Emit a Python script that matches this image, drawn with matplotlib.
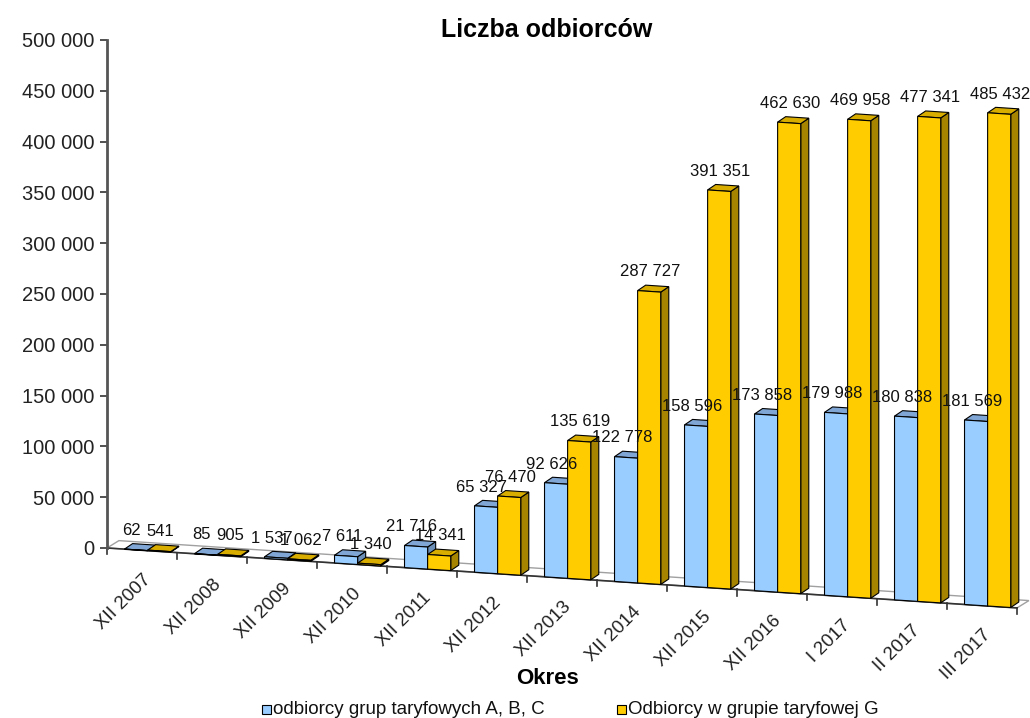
import numpy as np
import matplotlib
matplotlib.use("Agg")
import matplotlib.pyplot as plt
from matplotlib.patches import Polygon, Rectangle
from matplotlib.transforms import Affine2D

plt.rcParams["font.family"] = ["Liberation Sans", "DejaVu Sans"]

periods = ["XII 2007", "XII 2008", "XII 2009", "XII 2010", "XII 2011", "XII 2012",
           "XII 2013", "XII 2014", "XII 2015", "XII 2016", "I 2017", "II 2017", "III 2017"]
abc = [62, 85, 1537, 7611, 21716, 65327, 92626, 122778, 158596, 173858,
       179988, 180838, 181569]
grp_g = [541, 905, 1062, 1340, 14341, 76470, 135619, 287727, 391351, 462630,
         469958, 477341, 485432]
series_names = ["odbiorcy grup taryfowych A, B, C", "Odbiorcy w grupie taryfowej G"]

BLUE = ("#99ccff", "#7fa6d4", "#6c8fb8")
GOLD = ("#ffcc00", "#d9ad00", "#a68400")

fig = plt.figure(figsize=(10.3, 7.18), dpi=100)
ax = fig.add_axes([0.1039, 0.2368, 0.8835, 0.7075])
ax.set_xlim(0, len(periods))
ax.set_ylim(0, 500000)

# floor drops to the right, like Excel's 3D perspective
k = 0.118
shear = Affine2D(np.array([[1, 0, 0], [-k, 1, 0], [0, 0, 1]]))
tr = ax.transScale + ax.transLimits + shear + ax.transAxes

dx, dy = 0.115, 5900   # bar depth
fdx, fdy = 0.17, 8000  # floor depth

floor = Polygon([(0, 0), (len(periods), 0), (len(periods) + fdx, fdy), (fdx, fdy)],
                closed=True, facecolor="white", edgecolor="#a0a0a0", lw=1.0,
                transform=tr, clip_on=False, zorder=1)
ax.add_patch(floor)
for i in range(len(periods) + 1):
    ax.plot([i, i], [0, -6000], color="#333333", lw=1.2, transform=tr,
            clip_on=False, zorder=1)
ax.plot([0, len(periods)], [0, 0], color="#333333", lw=1.2, transform=tr,
        clip_on=False, zorder=1)


def bar3d(x0, w, h, colors, z):
    face, top, side = colors
    kw = dict(closed=True, edgecolor="black", lw=0.8, transform=tr,
              clip_on=False, zorder=z)
    ax.add_patch(Polygon([(x0 + w, 0), (x0 + w + dx, dy), (x0 + w + dx, h + dy),
                          (x0 + w, h)], facecolor=side, **kw))
    ax.add_patch(Polygon([(x0, h), (x0 + w, h), (x0 + w + dx, h + dy),
                          (x0 + dx, h + dy)], facecolor=top, **kw))
    ax.add_patch(Polygon([(x0, 0), (x0 + w, 0), (x0 + w, h), (x0, h)],
                         facecolor=face, **kw))


w = 0.33
for i in range(len(periods)):
    bar3d(i + 0.25, w, abc[i], BLUE, 2 + 2 * i)
    bar3d(i + 0.25 + w, w, grp_g[i], GOLD, 3 + 2 * i)
    for j, v in enumerate([abc[i], grp_g[i]]):
        xc = i + 0.25 + w * j + w / 2
        ax.annotate(f"{v:,}".replace(",", " "), xy=(xc, v), xycoords=tr,
                    xytext=(-3 + 4 * j, 14), textcoords="offset points",
                    ha="center", va="center", fontsize=12, color="#111111",
                    zorder=50, annotation_clip=False)
    ax.annotate(periods[i], xy=(i + 0.5, 0), xycoords=tr, xytext=(0, -15),
                textcoords="offset points", rotation=45, rotation_mode="anchor",
                ha="right", va="top", fontsize=13.5, color="#222222",
                annotation_clip=False)

ax.set_xticks([])
yt = np.arange(0, 500001, 50000)
ax.set_yticks(yt)
ax.set_yticklabels([f"{v:,}".replace(",", " ") for v in yt], fontsize=14.5, color="#222222")
ax.tick_params(axis="y", length=5, width=1.2, color="#333333", pad=4)
for s in ["top", "right", "bottom"]:
    ax.spines[s].set_visible(False)
ax.spines["left"].set_color("#555555")
ax.spines["left"].set_linewidth(2)
ax.patch.set_visible(False)

fig.text(0.531, 0.958, "Liczba odbiorców", ha="center", va="center",
         fontsize=18, fontweight="bold")
fig.text(0.532, 1 - 678 / 718, "Okres", ha="center", va="center",
         fontsize=16, fontweight="bold")

# legend
for xpx, name, col in [(262, series_names[0], BLUE[0]), (617, series_names[1], GOLD[0])]:
    fig.patches.append(Rectangle((xpx / 1030, 1 - 714 / 718), 9 / 1030, 9 / 718,
                                 transform=fig.transFigure, facecolor=col,
                                 edgecolor="black", lw=0.8))
    fig.text((xpx + 11) / 1030, 1 - 709 / 718, name, ha="left", va="center",
             fontsize=13.5, color="#111111")

fig.savefig("out.png", dpi=100)
plt.close(fig)
